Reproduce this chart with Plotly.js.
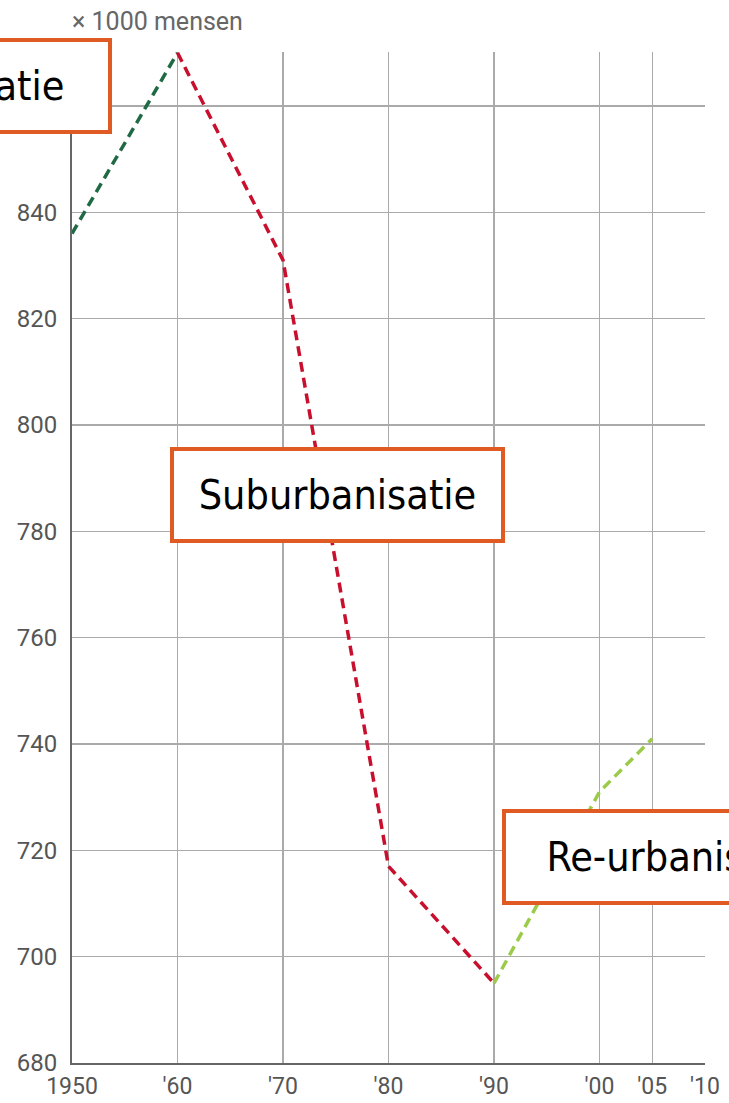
<!DOCTYPE html>
<html>
<head>
<meta charset="utf-8">
<script src="https://cdn.plot.ly/plotly-3.0.1.min.js"></script>
<style>html,body{margin:0;padding:0;background:#fff;}#chart{width:729px;height:1103px;}</style>
</head>
<body>
<div id="chart"></div>
<script>
// Data
const urbYears = [1950, 1960];
const urbValues = [836, 870];
const suburbYears = [1960, 1970, 1980, 1990];
const suburbValues = [870, 831, 717, 695];
const reurbYears = [1990, 2000, 2005];
const reurbValues = [695, 731, 741];
const xTickVals = [1950, 1960, 1970, 1980, 1990, 2000, 2005, 2010];
const xTickText = ["1950", "'60", "'70", "'80", "'90", "'00", "'05", "'10"];
const yTickVals = [680, 700, 720, 740, 760, 780, 800, 820, 840, 860, 870];
const yTickText = ["680", "700", "720", "740", "760", "780", "800", "820", "840", "", ""];
const phaseLabels = ["Urbanisatie", "Suburbanisatie", "Re-urbanisatie"];
const yUnit = "× 1000 mensen";

const dash = "10px,6px";
const traces = [
  {x: urbYears, y: urbValues, mode: "lines", line: {color: "#1f6a45", width: 3.5, dash: dash}, cliponaxis: false},
  {x: suburbYears, y: suburbValues, mode: "lines", line: {color: "#c8102e", width: 3.5, dash: dash}, cliponaxis: false},
  {x: reurbYears, y: reurbValues, mode: "lines", line: {color: "#9ccb4b", width: 3.5, dash: dash}, cliponaxis: false}
];

const tickFont = {family: "Roboto, sans-serif", size: 24, color: "#555"};
const boxFont = {family: "'DejaVu Sans Condensed', 'Liberation Sans', sans-serif", size: 41, color: "#000"};
const boxStyle = {bordercolor: "#e05a23", borderwidth: 4, borderpad: 4, bgcolor: "#fff", showarrow: false, xref: "paper", yref: "paper", font: boxFont, height: 80};

const layout = {
  width: 729, height: 1103,
  margin: {l: 72, r: 24, t: 52, b: 40},
  paper_bgcolor: "#fff", plot_bgcolor: "#fff",
  showlegend: false,
  xaxis: {
    range: [1950, 2010], tickmode: "array", tickvals: xTickVals, ticktext: xTickText,
    showgrid: true, gridcolor: "#aaa", gridwidth: 1.5, zeroline: false,
    showline: true, linecolor: "#666", linewidth: 2, ticks: "", ticklabelstandoff: 1,
    tickfont: {family: "Roboto, sans-serif", size: 23, color: "#555"}
  },
  yaxis: {
    range: [680, 870.15], tickmode: "array", tickvals: yTickVals, ticktext: yTickText,
    showgrid: true, gridcolor: "#aaa", gridwidth: 1.5, zeroline: false,
    showline: true, linecolor: "#666", linewidth: 2, ticks: "", ticklabelstandoff: 8, tickfont: tickFont
  },
  annotations: [
    {text: yUnit, xref: "paper", yref: "paper", x: -0.003, y: 1.0297, xanchor: "left", yanchor: "middle", showarrow: false,
     font: {family: "Roboto, sans-serif", size: 25, color: "#666"}},
    Object.assign({}, boxStyle, {text: phaseLabels[0], x: 0.0632, y: 0.9659, xanchor: "right", yanchor: "middle", width: 290}),
    Object.assign({}, boxStyle, {text: phaseLabels[1], x: 0.4194, y: 0.5618, xanchor: "center", yanchor: "middle", width: 319}),
    Object.assign({}, boxStyle, {text: phaseLabels[2], x: 0.6793, y: 0.2033, xanchor: "left", yanchor: "middle", width: 340})
  ]
};

Plotly.newPlot("chart", traces, layout, {displayModeBar: false, staticPlot: true});
</script>
</body>
</html>
